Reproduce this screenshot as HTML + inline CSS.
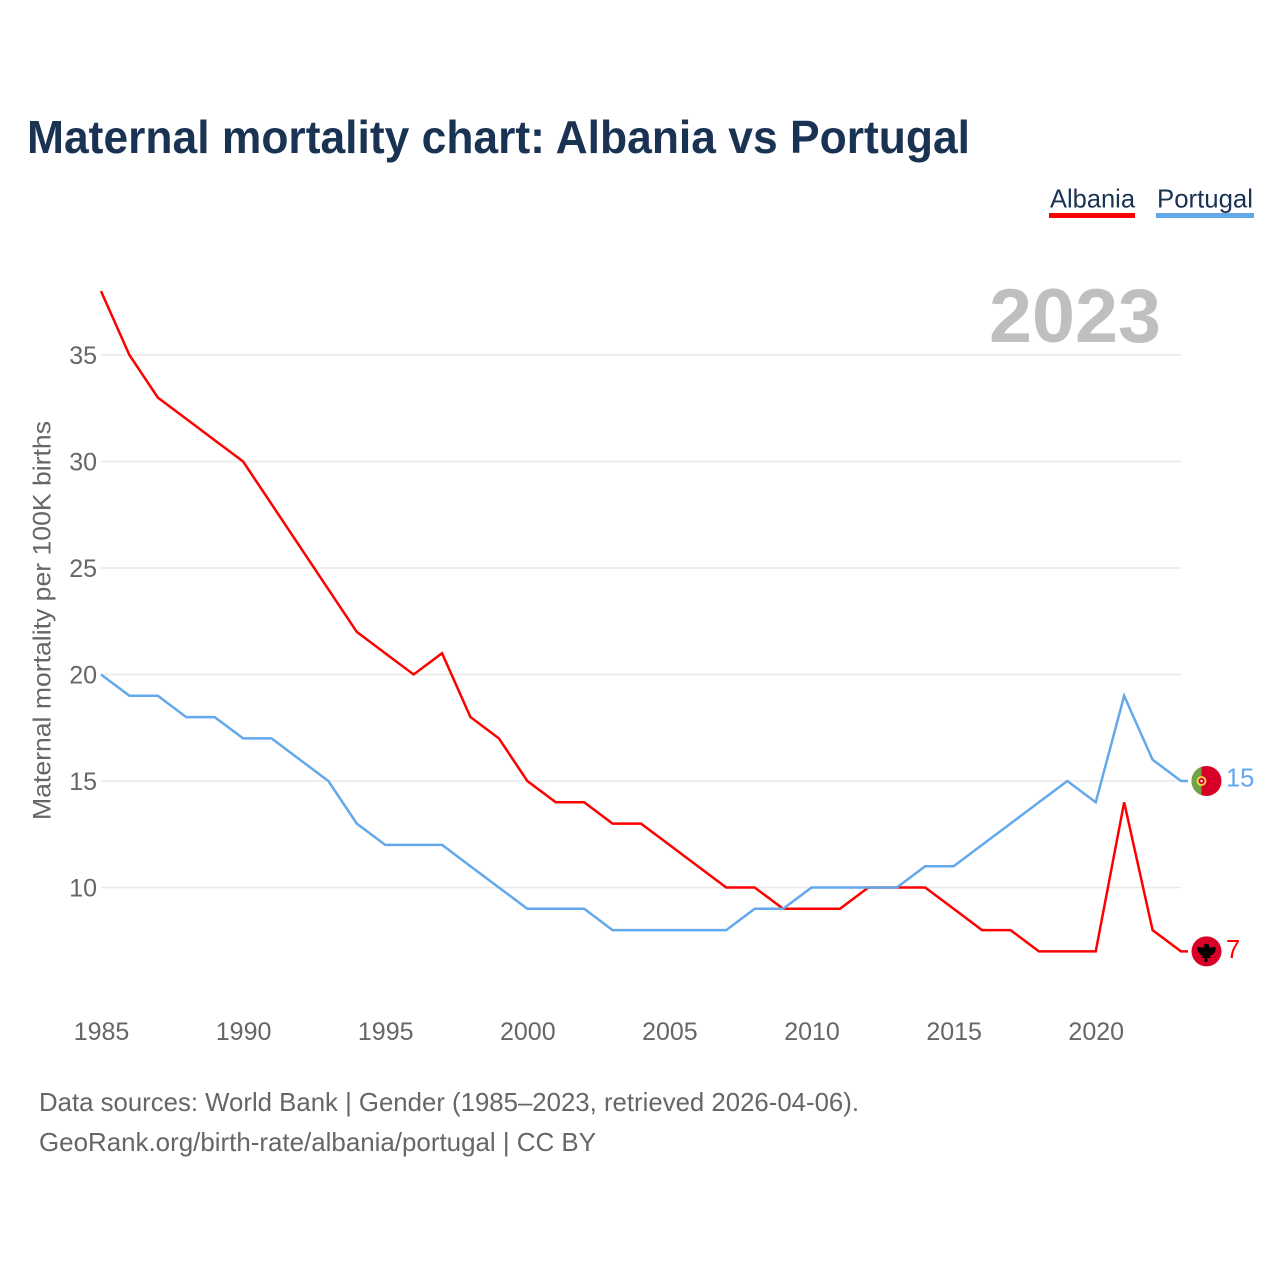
<!DOCTYPE html>
<html lang="en">
<head>
<meta charset="utf-8">
<title>Maternal mortality chart: Albania vs Portugal</title>
<style>
html,body{margin:0;padding:0;background:#fff;}
svg{display:block;}
text{font-family:"Liberation Sans",Arial,sans-serif;}
</style>
</head>
<body>
<svg id="chart" xmlns="http://www.w3.org/2000/svg" width="1280" height="1280" viewBox="0 0 1280 1280">
  <rect x="0" y="0" width="1280" height="1280" fill="#ffffff"/>
  <text x="27" y="153" font-size="46" font-weight="700" fill="#1a3353" textLength="943" lengthAdjust="spacingAndGlyphs">Maternal mortality chart: Albania vs Portugal</text>

  <g>
    <text x="1050" y="207.5" font-size="26" fill="#1a3353" textLength="85" lengthAdjust="spacingAndGlyphs">Albania</text>
    <rect x="1049" y="213" width="86" height="5" fill="#ff0000"/>
  </g>
  <g>
    <text x="1157" y="207.5" font-size="26" fill="#1a3353" textLength="96" lengthAdjust="spacingAndGlyphs">Portugal</text>
    <rect x="1156" y="213" width="98" height="5" fill="#64a8ec"/>
  </g>

  <text x="989" y="342" font-size="76" font-weight="700" fill="#bfbfbf" textLength="172" lengthAdjust="spacingAndGlyphs">2023</text>

  <g id="grid"></g>
  <g id="yticks"></g>
  <g id="xticks"></g>

  <text transform="translate(50.5,820) rotate(-90)" font-size="25" fill="#666666" textLength="399" lengthAdjust="spacingAndGlyphs">Maternal mortality per 100K births</text>

  <polyline id="line-albania" fill="none" stroke="#ff0000" stroke-width="2.5" stroke-linejoin="miter"/>
  <polyline id="line-portugal" fill="none" stroke="#64a8ec" stroke-width="2.5" stroke-linejoin="miter"/>

  <g id="flag-portugal">
    <circle cx="0" cy="0" r="15" fill="#d80027"/>
    <path d="M-5,-14.14 A15,15 0 0 0 -5,14.14 Z" fill="#6da544"/>
    <circle cx="-5" cy="0" r="4" fill="#d80027" stroke="#ffda44" stroke-width="1.8"/>
    <rect x="-6" y="-1.2" width="2" height="2.4" fill="#f0f0f0"/>
  </g>
  <g id="flag-albania">
    <circle cx="0" cy="0" r="15" fill="#d80027"/>
    <path transform="translate(0,1.5)" d="M-2,-9 L2,-9 L3,-5 L9,-6 L9,-2 L6,2 L3,3 L5,5 L1,5 L1,9 L-2,9 L-2,5 L-5,5 L-3,3 L-6,2 L-9,-2 L-9,-6 L-3,-5 Z" fill="#000000"/>
  </g>
  <text id="value-portugal" x="1226" font-size="25.5" fill="#64a8ec"></text>
  <text id="value-albania" x="1226" font-size="25.5" fill="#ff0000"></text>

  <text x="39" y="1111" font-size="26" fill="#666666" textLength="820" lengthAdjust="spacingAndGlyphs">Data sources: World Bank | Gender (1985–2023, retrieved 2026-04-06).</text>
  <text x="39" y="1151" font-size="26" fill="#666666" textLength="557" lengthAdjust="spacingAndGlyphs">GeoRank.org/birth-rate/albania/portugal | CC BY</text>
</svg>
<script>
var years = [1985,1986,1987,1988,1989,1990,1991,1992,1993,1994,1995,1996,1997,1998,1999,2000,2001,2002,2003,2004,2005,2006,2007,2008,2009,2010,2011,2012,2013,2014,2015,2016,2017,2018,2019,2020,2021,2022,2023];
var albania = [38,35,33,32,31,30,28,26,24,22,21,20,21,18,17,15,14,14,13,13,12,11,10,10,9,9,9,10,10,10,9,8,8,7,7,7,14,8,7];
var portugal = [20,19,19,18,18,17,17,16,15,13,12,12,12,11,10,9,9,9,8,8,8,8,8,9,9,10,10,10,10,11,11,12,13,14,15,14,19,16,15];
var yTickValues = [10,15,20,25,30,35];
var xTickValues = [1985,1990,1995,2000,2005,2010,2015,2020];

var NS = 'http://www.w3.org/2000/svg';
function xScale(year){ return 101 + (year - 1985) * (1080 / 38); }
function yScale(v){ return 887.5 - (v - 10) * 21.3; }

var gridGroup = document.getElementById('grid');
var yGroup = document.getElementById('yticks');
var xGroup = document.getElementById('xticks');

yTickValues.forEach(function(v){
  var line = document.createElementNS(NS, 'line');
  
  
  line.setAttribute('x1', 101);
  line.setAttribute('x2', 1181);
  line.setAttribute('y1', yScale(v));
  line.setAttribute('y2', yScale(v));
  line.setAttribute('stroke', '#e8e8e8');
  line.setAttribute('stroke-width', '1.5');
  gridGroup.appendChild(line);

  var label = document.createElementNS(NS, 'text');
  
  
  label.setAttribute('x', 97);
  label.setAttribute('y', yScale(v) + 9);
  label.setAttribute('text-anchor', 'end');
  label.setAttribute('font-size', '25');
  label.setAttribute('fill', '#666666');
  label.textContent = v;
  yGroup.appendChild(label);
});

xTickValues.forEach(function(t){
  var label = document.createElementNS(NS, 'text');
  
  
  label.setAttribute('x', xScale(t) + 0.5);
  label.setAttribute('y', 1040);
  label.setAttribute('text-anchor', 'middle');
  label.setAttribute('font-size', '25');
  label.setAttribute('fill', '#666666');
  label.textContent = t;
  xGroup.appendChild(label);
});

function pointsFor(series){
  var pts = series.map(function(v, i){
    return xScale(years[i]).toFixed(2) + ',' + yScale(v).toFixed(2);
  });
  var lastX = xScale(years[years.length - 1]);
  pts.push((lastX + 7).toFixed(2) + ',' + yScale(series[series.length - 1]).toFixed(2));
  return pts.join(' ');
}
document.getElementById('line-albania').setAttribute('points', pointsFor(albania));
document.getElementById('line-portugal').setAttribute('points', pointsFor(portugal));

var lastAlbania = albania[albania.length - 1];
var lastPortugal = portugal[portugal.length - 1];
document.getElementById('flag-albania').setAttribute('transform', 'translate(1206.5,' + yScale(lastAlbania) + ')');
document.getElementById('flag-portugal').setAttribute('transform', 'translate(1206.5,' + yScale(lastPortugal) + ')');
var valueAlbania = document.getElementById('value-albania');
valueAlbania.setAttribute('y', yScale(lastAlbania) + 6.5);
valueAlbania.textContent = lastAlbania;
var valuePortugal = document.getElementById('value-portugal');
valuePortugal.setAttribute('y', yScale(lastPortugal) + 5.5);
valuePortugal.textContent = lastPortugal;
</script>
</body>
</html>
